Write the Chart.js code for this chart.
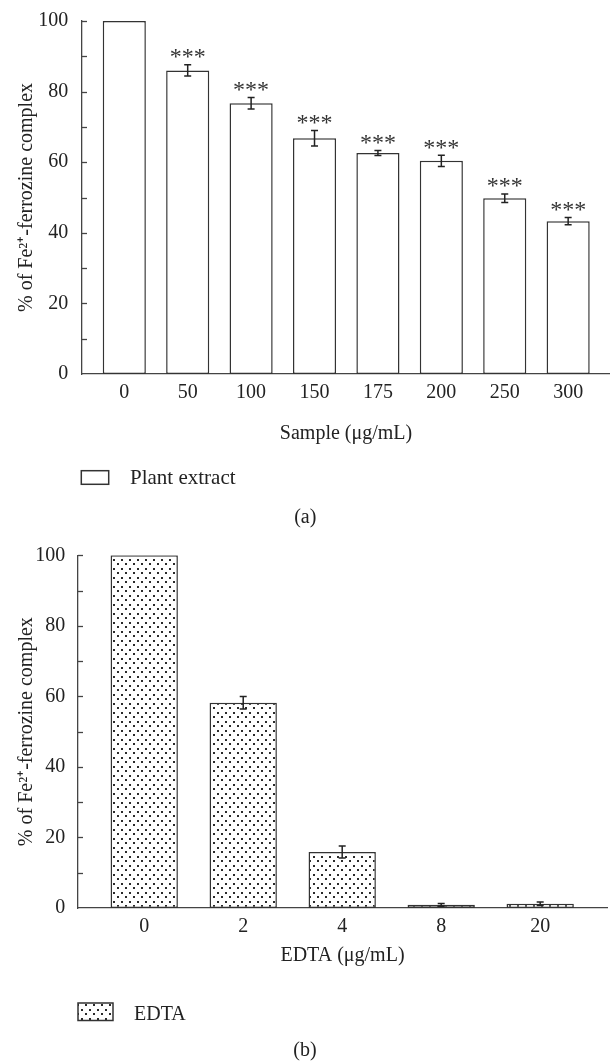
<!DOCTYPE html>
<html><head><meta charset="utf-8">
<script src="https://cdn.jsdelivr.net/npm/chart.js@4.4.0/dist/chart.umd.min.js"></script>
<style>
html,body{margin:0;padding:0;background:#fff;}
#wrap{position:relative;width:610px;height:1062px;overflow:hidden;}
canvas{position:absolute;left:0;}
#ca{top:0;}
#cb{top:540px;}
</style></head><body>
<div id="wrap"><canvas id="ca" width="610" height="540"></canvas><canvas id="cb" width="610" height="522"></canvas></div>
<script>
// ---- data (a) ----
const categoriesA = ['0', '50', '100', '150', '175', '200', '250', '300'];
const valuesA = [100, 86.0, 76.7, 66.8, 62.6, 60.4, 49.8, 43.3];
const errorsA = [0, 1.6, 1.6, 2.2, 0.7, 1.6, 1.2, 1.0];
const significanceA = ['', '***', '***', '***', '***', '***', '***', '***'];
// ---- data (b) ----
const categoriesB = ['0', '2', '4', '8', '20'];
const valuesB = [100, 58.2, 15.9, 0.9, 1.2];
const errorsB = [0, 1.8, 1.7, 0.4, 0.5];
const significanceB = ['', '', '', '', ''];
// ---- ticks ----
const yTickValues = [0, 20, 40, 60, 80, 100];
const yMinorTickValues = [10, 20, 30, 40, 50, 60, 70, 80, 90, 100];

const FONT = "'Liberation Serif', 'Times New Roman', serif";
const TXT = '#222';
const AXIS = '#444';

function dotPattern() {
  const c = document.createElement('canvas');
  c.width = 8; c.height = 9;
  const g = c.getContext('2d');
  g.fillStyle = '#fff'; g.fillRect(0, 0, 8, 9);
  g.fillStyle = '#2a2a2a';
  g.fillRect(1, 1, 2, 2);
  g.fillRect(5, 5, 2, 2);
  return document.createElement('canvas').getContext('2d').createPattern(c, 'repeat');
}

const inwardTicks = {
  id: 'inwardTicks',
  afterDraw(chart) {
    const y = chart.scales.y, ctx = chart.ctx;
    ctx.save();
    ctx.strokeStyle = AXIS; ctx.lineWidth = 1.3;
    yMinorTickValues.forEach(v => {
      const py = Math.round(y.getPixelForValue(v)) + 0.5;
      ctx.beginPath(); ctx.moveTo(y.right, py); ctx.lineTo(y.right + 5, py); ctx.stroke();
    });
    ctx.restore();
  }
};

const errBars = {
  id: 'errBars',
  afterDatasetsDraw(chart, args, opts) {
    const meta = chart.getDatasetMeta(0), y = chart.scales.y, ctx = chart.ctx;
    ctx.save();
    meta.data.forEach((el, i) => {
      const v = opts.values[i], e = opts.errors[i];
      let topPx = el.y;
      if (e > 0) {
        const t = y.getPixelForValue(v + e), b = y.getPixelForValue(v - e);
        topPx = t;
        ctx.strokeStyle = '#222'; ctx.lineWidth = 1.5;
        ctx.beginPath();
        ctx.moveTo(el.x, t); ctx.lineTo(el.x, b);
        ctx.moveTo(el.x - 3.5, t); ctx.lineTo(el.x + 3.5, t);
        ctx.moveTo(el.x - 3.5, b); ctx.lineTo(el.x + 3.5, b);
        ctx.stroke();
      }
      const lab = opts.labels[i];
      if (lab) {
        ctx.font = '24px ' + FONT;
        ctx.fillStyle = '#333';
        ctx.textAlign = 'center';
        ctx.textBaseline = 'alphabetic';
        const m = ctx.measureText(lab);
        const bottom = topPx - 6.5;
        ctx.fillText(lab, el.x, bottom - m.actualBoundingBoxDescent);
      }
    });
    ctx.restore();
  }
};

const extras = {
  id: 'extras',
  afterDraw(chart, args, o) {
    const ctx = chart.ctx, ds = chart.data.datasets[0];
    ctx.save();
    ctx.fillStyle = ds.backgroundColor;
    ctx.fillRect(o.box[0], o.box[1], o.box[2], o.box[3]);
    ctx.strokeStyle = '#333'; ctx.lineWidth = 1.5;
    ctx.strokeRect(o.box[0], o.box[1], o.box[2], o.box[3]);
    ctx.fillStyle = TXT;
    ctx.font = o.legendFont + 'px ' + FONT;
    ctx.textAlign = 'left'; ctx.textBaseline = 'alphabetic';
    ctx.fillText(ds.label, o.textX, o.textBase);
    ctx.font = '20px ' + FONT;
    ctx.textAlign = 'center';
    ctx.fillText(o.caption, o.capX, o.capBase);
    ctx.restore();
  }
};

function makeChart(id, cats, vals, errs, sig, cfg) {
  return new Chart(document.getElementById(id), {
    type: 'bar',
    data: {
      datasets: [{
        label: cfg.label,
        data: vals.map((v, i) => ({ x: i, y: v })),
        backgroundColor: cfg.fill,
        borderColor: '#333',
        borderWidth: 1.5,
        borderSkipped: false,
        categoryPercentage: 1,
        barPercentage: 0.68
      }]
    },
    options: {
      responsive: false,
      animation: false,
      events: [],
      layout: { padding: cfg.padding },
      plugins: {
        legend: { display: false },
        tooltip: { enabled: false },
        errBars: { values: vals, errors: errs, labels: sig },
        extras: cfg.extras
      },
      scales: {
        x: {
          type: 'linear', min: cfg.xmin, max: cfg.xmax, offset: false,
          afterBuildTicks: s => { s.ticks = cats.map((c, i) => ({ value: i })); },
          afterFit: s => { s.height = cfg.xHeight; s.paddingLeft = 0; s.paddingRight = 0; },
          ticks: { callback: v => cats[v], font: { family: FONT, size: 20 }, color: TXT, padding: 6.5, autoSkip: false, maxRotation: 0 },
          grid: { display: false, drawTicks: false, offset: false },
          border: { display: true, color: AXIS, width: 1.3 },
          title: { display: true, text: cfg.xTitle, font: { family: FONT, size: 20 }, color: TXT, padding: { top: 0, bottom: 8 } }
        },
        y: {
          min: 0, max: 100,
          afterBuildTicks: s => { s.ticks = yTickValues.map(v => ({ value: v })); },
          afterFit: s => { s.width = cfg.yWidth; s.paddingTop = 0; s.paddingBottom = 0; },
          ticks: { font: { family: FONT, size: 20 }, color: TXT, padding: cfg.yPad },
          grid: { display: false, drawTicks: false },
          border: { display: true, color: AXIS, width: 1.3 },
          title: { display: true, text: '% of Fe²⁺-ferrozine complex', font: { family: FONT, size: 20 }, color: TXT, padding: { top: 14.3, bottom: 0 } }
        }
      }
    },
    plugins: [inwardTicks, errBars, extras]
  });
}

makeChart('ca', categoriesA, valuesA, errorsA, significanceA, {
  label: 'Plant extract', fill: '#ffffff',
  padding: { left: 0, right: 0, top: 21, bottom: 86 },
  xmin: -0.667, xmax: 7.66, xHeight: 80, yWidth: 82, yPad: 13.7,
  xTitle: 'Sample (μg/mL)',
  extras: { box: [81.3, 470.7, 27.4, 13.6], legendFont: 21, textX: 130, textBase: 484.3, caption: '(a)', capX: 305.3, capBase: 522.8 }
});

makeChart('cb', categoriesB, valuesB, errorsB, significanceB, {
  label: 'EDTA', fill: dotPattern(),
  padding: { left: 0, right: 3, top: 15.3, bottom: 86 },
  xmin: -0.669, xmax: 4.675, xHeight: 68, yWidth: 78, yPad: 12.7,
  xTitle: 'EDTA (μg/mL)',
  extras: { box: [78, 463, 35, 17.5], legendFont: 20, textX: 134, textBase: 480, caption: '(b)', capX: 305, capBase: 516.3 }
});
</script>
</body></html>
